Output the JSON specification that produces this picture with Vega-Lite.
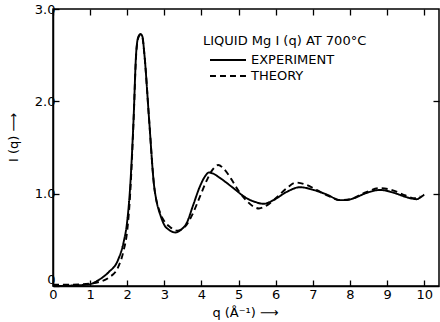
{
  "$schema": "https://vega.github.io/schema/vega-lite/v6.json",
  "width": 386,
  "height": 277,
  "autosize": "none",
  "padding": {"left": 53, "top": 9, "right": 1, "bottom": 36},
  "background": "white",
  "config": {
    "font": "DejaVu Sans",
    "view": {"stroke": "black", "strokeWidth": 1.5},
    "axis": {"domainColor": "black", "tickColor": "black", "labelColor": "black", "titleColor": "black", "grid": false, "labelFontSize": 13, "titleFontSize": 13, "titleFontWeight": "normal", "tickWidth": 1.3, "domainWidth": 1.5}
  },
  "datasets": {
    "curves": [
      {"q": 0.0, "I": 0.0, "series": "EXPERIMENT"},
      {"q": 0.5, "I": 0.005, "series": "EXPERIMENT"},
      {"q": 0.9, "I": 0.015, "series": "EXPERIMENT"},
      {"q": 1.0, "I": 0.02, "series": "EXPERIMENT"},
      {"q": 1.25, "I": 0.07, "series": "EXPERIMENT"},
      {"q": 1.5, "I": 0.15, "series": "EXPERIMENT"},
      {"q": 1.75, "I": 0.28, "series": "EXPERIMENT"},
      {"q": 1.9, "I": 0.47, "series": "EXPERIMENT"},
      {"q": 1.99, "I": 0.67, "series": "EXPERIMENT"},
      {"q": 2.08, "I": 1.08, "series": "EXPERIMENT"},
      {"q": 2.17, "I": 1.8, "series": "EXPERIMENT"},
      {"q": 2.24, "I": 2.52, "series": "EXPERIMENT"},
      {"q": 2.3, "I": 2.7, "series": "EXPERIMENT"},
      {"q": 2.36, "I": 2.73, "series": "EXPERIMENT"},
      {"q": 2.41, "I": 2.7, "series": "EXPERIMENT"},
      {"q": 2.46, "I": 2.52, "series": "EXPERIMENT"},
      {"q": 2.59, "I": 1.8, "series": "EXPERIMENT"},
      {"q": 2.72, "I": 1.1, "series": "EXPERIMENT"},
      {"q": 2.8, "I": 0.9, "series": "EXPERIMENT"},
      {"q": 2.9, "I": 0.76, "series": "EXPERIMENT"},
      {"q": 3.0, "I": 0.66, "series": "EXPERIMENT"},
      {"q": 3.12, "I": 0.61, "series": "EXPERIMENT"},
      {"q": 3.29, "I": 0.58, "series": "EXPERIMENT"},
      {"q": 3.45, "I": 0.61, "series": "EXPERIMENT"},
      {"q": 3.6, "I": 0.68, "series": "EXPERIMENT"},
      {"q": 3.78, "I": 0.88, "series": "EXPERIMENT"},
      {"q": 3.96, "I": 1.08, "series": "EXPERIMENT"},
      {"q": 4.1, "I": 1.19, "series": "EXPERIMENT"},
      {"q": 4.2, "I": 1.23, "series": "EXPERIMENT"},
      {"q": 4.3, "I": 1.22, "series": "EXPERIMENT"},
      {"q": 4.5, "I": 1.17, "series": "EXPERIMENT"},
      {"q": 4.86, "I": 1.06, "series": "EXPERIMENT"},
      {"q": 5.22, "I": 0.95, "series": "EXPERIMENT"},
      {"q": 5.45, "I": 0.91, "series": "EXPERIMENT"},
      {"q": 5.67, "I": 0.89, "series": "EXPERIMENT"},
      {"q": 5.94, "I": 0.93, "series": "EXPERIMENT"},
      {"q": 6.3, "I": 1.02, "series": "EXPERIMENT"},
      {"q": 6.66, "I": 1.07, "series": "EXPERIMENT"},
      {"q": 7.02, "I": 1.04, "series": "EXPERIMENT"},
      {"q": 7.38, "I": 0.99, "series": "EXPERIMENT"},
      {"q": 7.74, "I": 0.93, "series": "EXPERIMENT"},
      {"q": 7.9, "I": 0.93, "series": "EXPERIMENT"},
      {"q": 8.1, "I": 0.95, "series": "EXPERIMENT"},
      {"q": 8.46, "I": 1.01, "series": "EXPERIMENT"},
      {"q": 8.82, "I": 1.04, "series": "EXPERIMENT"},
      {"q": 9.18, "I": 1.01, "series": "EXPERIMENT"},
      {"q": 9.54, "I": 0.96, "series": "EXPERIMENT"},
      {"q": 9.8, "I": 0.94, "series": "EXPERIMENT"},
      {"q": 9.9, "I": 0.96, "series": "EXPERIMENT"},
      {"q": 10.0, "I": 0.99, "series": "EXPERIMENT"},
      {"q": 0.0, "I": 0.015, "series": "THEORY"},
      {"q": 0.5, "I": 0.015, "series": "THEORY"},
      {"q": 1.0, "I": 0.025, "series": "THEORY"},
      {"q": 1.25, "I": 0.045, "series": "THEORY"},
      {"q": 1.5, "I": 0.09, "series": "THEORY"},
      {"q": 1.75, "I": 0.2, "series": "THEORY"},
      {"q": 1.9, "I": 0.38, "series": "THEORY"},
      {"q": 2.0, "I": 0.6, "series": "THEORY"},
      {"q": 2.08, "I": 1.0, "series": "THEORY"},
      {"q": 2.17, "I": 1.78, "series": "THEORY"},
      {"q": 2.24, "I": 2.5, "series": "THEORY"},
      {"q": 2.3, "I": 2.69, "series": "THEORY"},
      {"q": 2.36, "I": 2.72, "series": "THEORY"},
      {"q": 2.41, "I": 2.69, "series": "THEORY"},
      {"q": 2.46, "I": 2.52, "series": "THEORY"},
      {"q": 2.59, "I": 1.8, "series": "THEORY"},
      {"q": 2.72, "I": 1.1, "series": "THEORY"},
      {"q": 2.88, "I": 0.8, "series": "THEORY"},
      {"q": 3.0, "I": 0.7, "series": "THEORY"},
      {"q": 3.15, "I": 0.64, "series": "THEORY"},
      {"q": 3.35, "I": 0.6, "series": "THEORY"},
      {"q": 3.55, "I": 0.64, "series": "THEORY"},
      {"q": 3.75, "I": 0.77, "series": "THEORY"},
      {"q": 3.95, "I": 0.96, "series": "THEORY"},
      {"q": 4.15, "I": 1.15, "series": "THEORY"},
      {"q": 4.3, "I": 1.26, "series": "THEORY"},
      {"q": 4.45, "I": 1.31, "series": "THEORY"},
      {"q": 4.6, "I": 1.27, "series": "THEORY"},
      {"q": 4.8, "I": 1.16, "series": "THEORY"},
      {"q": 5.0, "I": 1.03, "series": "THEORY"},
      {"q": 5.2, "I": 0.93, "series": "THEORY"},
      {"q": 5.4, "I": 0.86, "series": "THEORY"},
      {"q": 5.55, "I": 0.84, "series": "THEORY"},
      {"q": 5.75, "I": 0.87, "series": "THEORY"},
      {"q": 6.0, "I": 0.95, "series": "THEORY"},
      {"q": 6.3, "I": 1.06, "series": "THEORY"},
      {"q": 6.55, "I": 1.12, "series": "THEORY"},
      {"q": 6.8, "I": 1.1, "series": "THEORY"},
      {"q": 7.1, "I": 1.04, "series": "THEORY"},
      {"q": 7.4, "I": 0.98, "series": "THEORY"},
      {"q": 7.75, "I": 0.93, "series": "THEORY"},
      {"q": 8.0, "I": 0.94, "series": "THEORY"},
      {"q": 8.4, "I": 1.01, "series": "THEORY"},
      {"q": 8.8, "I": 1.06, "series": "THEORY"},
      {"q": 9.2, "I": 1.03, "series": "THEORY"},
      {"q": 9.5, "I": 0.98, "series": "THEORY"},
      {"q": 9.75, "I": 0.95, "series": "THEORY"},
      {"q": 9.9, "I": 0.97, "series": "THEORY"}
    ]
  },
  "data": {"name": "curves"},
  "layer": [
    {
      "mark": {"type": "line", "interpolate": "monotone", "color": "black", "strokeWidth": 1.9},
      "encoding": {
        "x": {
          "field": "q", "type": "quantitative",
          "scale": {"domain": [0, 10.4], "nice": false, "zero": false},
          "axis": {"orient": "bottom", "values": [0,1,2,3,4,5,6,7,8,9,10], "format": "d", "tickSize": -6, "labelPadding": 8, "title": "q (Å⁻¹)   ⟶", "titleX": 192, "titlePadding": 5, "labelFlush": false}
        },
        "y": {
          "field": "I", "type": "quantitative",
          "scale": {"domain": [0, 3], "nice": false},
          "axis": {"orient": "left", "values": [0, 1, 2, 3], "labelExpr": "datum.value == 0 ? '0' : format(datum.value, '.1f')", "labelBaseline": {"condition": {"test": "datum.value == 0", "value": "bottom"}, "value": "middle"}, "tickSize": -6, "labelPadding": 4, "title": "I (q)     ⟶", "titleY": 128, "titlePadding": 14, "labelFlush": false}
        },
        "strokeDash": {
          "field": "series", "type": "nominal",
          "scale": {"domain": ["EXPERIMENT", "THEORY"], "range": [[1, 0], [6, 4]]},
          "legend": {
            "title": "LIQUID Mg I (q) AT 700°C",
            "orient": "none", "legendX": 150, "legendY": 26,
            "symbolType": "stroke", "symbolSize": 1300, "symbolStrokeWidth": 1.9, "symbolStrokeColor": "black",
            "symbolOffset": 6,
            "clipHeight": 14,
            "labelFontSize": 13, "titleFontSize": 13, "titleFontWeight": "normal", "titleColor": "black", "labelColor": "black",
            "titlePadding": 5, "rowPadding": 2, "labelOffset": 4
          }
        }
      }
    },
    {
      "mark": {"type": "line", "opacity": 0},
      "encoding": {
        "x": {
          "field": "q", "type": "quantitative",
          "axis": {"orient": "top", "values": [0,1,2,3,4,5,6,7,8,9,10], "labels": false, "domain": false, "tickSize": -6, "title": null}
        },
        "y": {
          "field": "I", "type": "quantitative",
          "axis": {"orient": "right", "values": [1, 2], "labels": false, "domain": false, "tickSize": -6, "title": null}
        }
      }
    }
  ],
  "resolve": {"axis": {"x": "independent", "y": "independent"}}
}
